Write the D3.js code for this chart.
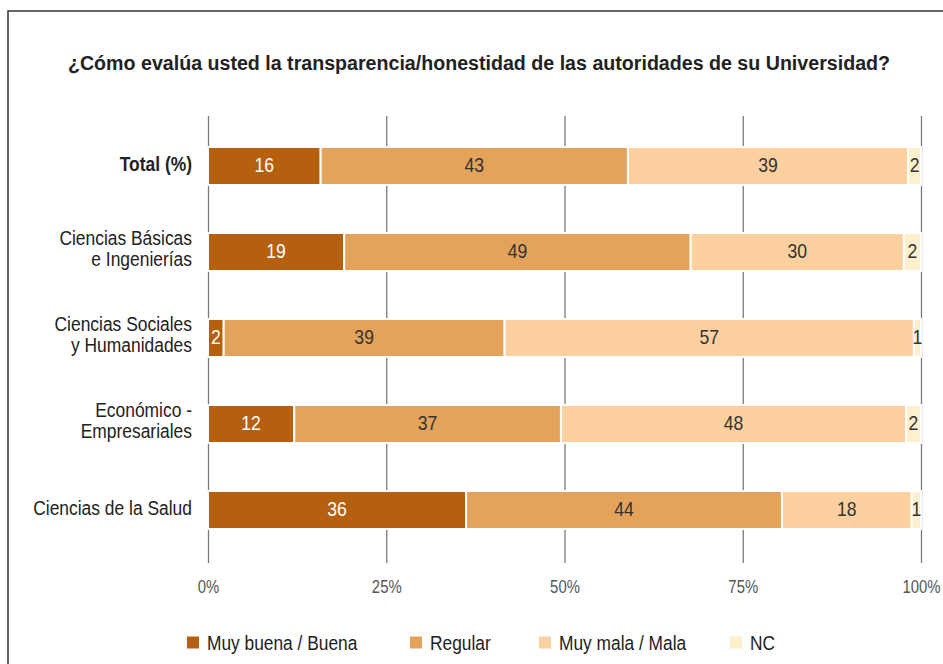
<!DOCTYPE html>
<html>
<head>
<meta charset="utf-8">
<script src="https://cdn.jsdelivr.net/npm/d3@7"></script>
<style>
  body { margin: 0; background: #fff; }
  svg text { font-family: "Liberation Sans", Arial, sans-serif; }
</style>
</head>
<body>
<div id="chart-area"></div>
<script>
// categorias y series (porcentajes)
const categories = [
    ["Total (%)"],
    ["Ciencias Básicas", "e Ingenierías"],
    ["Ciencias Sociales", "y Humanidades"],
    ["Económico -", "Empresariales"],
    ["Ciencias de la Salud"]
]
const seriesNames = ["Muy buena / Buena", "Regular", "Muy mala / Mala", "NC"]
const muyBuena = [15.8, 19.1, 2.2, 12.1, 36.2]
const regular  = [43.1, 48.6, 39.4, 37.4, 44.3]
const muyMala  = [39.3, 29.9, 57.4, 48.4, 18.2]
const nc       = [1.8, 2.4, 1.0, 2.1, 1.3]
const tickValues = [0, 25, 50, 75, 100]

const colors = ["#b5600f", "#e3a35a", "#fdd09f", "#fef0cc"]
const labelColors = ["#ffffff", "#333333", "#333333", "#333333"]

const WIDTH = 943
const HEIGHT = 664
// la fuente original es condensada: se estrecha el texto horizontalmente
const narrow = (cx, s) => `translate(${cx},0) scale(${s},1) translate(${-cx},0)`

const svg = d3.select("#chart-area").append("svg")
    .attr("width", WIDTH)
    .attr("height", HEIGHT)

// marco
svg.append("rect")
    .attr("x", 8).attr("y", 11)
    .attr("width", 1000).attr("height", 1000)
    .attr("fill", "none")
    .attr("stroke", "#333")
    .attr("stroke-width", 1.5)

// titulo
svg.append("text")
    .attr("x", 479).attr("y", 70)
    .attr("text-anchor", "middle")
    .attr("font-weight", "bold")
    .attr("font-size", "21px")
    .attr("fill", "#222")
    .attr("transform", narrow(479, 0.935))
    .text("¿Cómo evalúa usted la transparencia/honestidad de las autoridades de su Universidad?")

// scales
const keys = categories.map(d => d.join(" "))
const x = d3.scaleLinear().domain([0, 100]).range([208, 921])
const y = d3.scaleBand().domain(keys).range([123, 553])
    .paddingInner(50 / 86).paddingOuter(25 / 86)

// axis con lineas de grilla
const xAxis = svg.append("g")
    .attr("class", "x axis")
    .attr("transform", "translate(0, 563)")
    .call(d3.axisBottom(x)
        .tickValues(tickValues)
        .tickSize(-(563 - 116))
        .tickFormat(d => d + "%"))
xAxis.select(".domain").remove()
xAxis.selectAll(".tick line")
    .attr("stroke", "#7a7a7a")
    .attr("stroke-width", 1.3)
xAxis.selectAll(".tick text")
    .attr("y", 30).attr("dy", 0)
    .attr("fill", "#555")
    .attr("font-size", "17.5px")
    .attr("transform", narrow(0, 0.85))

// stack data
const series = [muyBuena, regular, muyMala, nc]
const rows = keys.map((k, i) => {
    let acc = 0
    return series.map((s, j) => {
        const d = { key: k, serie: j, v: s[i], x0: acc, x1: acc + s[i] }
        acc += s[i]
        return d
    })
})

const rowG = svg.append("g").selectAll("g")
    .data(rows)
    .enter().append("g")

rowG.selectAll("rect")
    .data(d => d)
    .enter().append("rect")
        .attr("x", d => x(d.x0))
        .attr("y", d => y(d.key) - 1)
        .attr("width", d => x(d.x1) - x(d.x0))
        .attr("height", y.bandwidth() + 2)
        .attr("fill", d => colors[d.serie])
        .attr("stroke", "#fff")
        .attr("stroke-width", 2)

rowG.selectAll("text")
    .data(d => d)
    .enter().append("text")
        .attr("x", d => (x(d.x0) + x(d.x1)) / 2)
        .attr("y", d => y(d.key) + y.bandwidth() / 2 + 6.5)
        .attr("text-anchor", "middle")
        .attr("font-size", "20px")
        .attr("fill", d => labelColors[d.serie])
        .attr("transform", d => narrow((x(d.x0) + x(d.x1)) / 2, 0.88))
        .text(d => Math.round(d.v))

// etiquetas de categorias
const catText = svg.append("g").selectAll("text")
    .data(categories)
    .enter().append("text")
        .attr("x", 192)
        .attr("y", (d, i) => y(keys[i]) + y.bandwidth() / 2 + 5.5 - (d.length - 1) * 12.5)
        .attr("text-anchor", "end")
        .attr("font-size", "21px")
        .attr("fill", "#222")
        .attr("font-weight", (d, i) => i === 0 ? "bold" : "normal")
        .attr("transform", narrow(192, 0.83))
catText.selectAll("tspan")
    .data(d => d)
    .enter().append("tspan")
        .attr("x", 192)
        .attr("dy", (d, i) => i === 0 ? 0 : 21.5)
        .text(d => d)

// leyenda
const legendX = [187, 410, 539, 730]
const legend = svg.append("g").selectAll("g")
    .data(seriesNames)
    .enter().append("g")
        .attr("transform", (d, i) => `translate(${legendX[i]}, 636.5)`)
legend.append("rect")
    .attr("width", 12).attr("height", 12)
    .attr("fill", (d, i) => colors[i])
legend.append("text")
    .attr("x", 20).attr("y", 13.5)
    .attr("font-size", "19.5px")
    .attr("fill", "#222")
    .attr("transform", narrow(20, 0.89))
    .text(d => d)
</script>
</body>
</html>
